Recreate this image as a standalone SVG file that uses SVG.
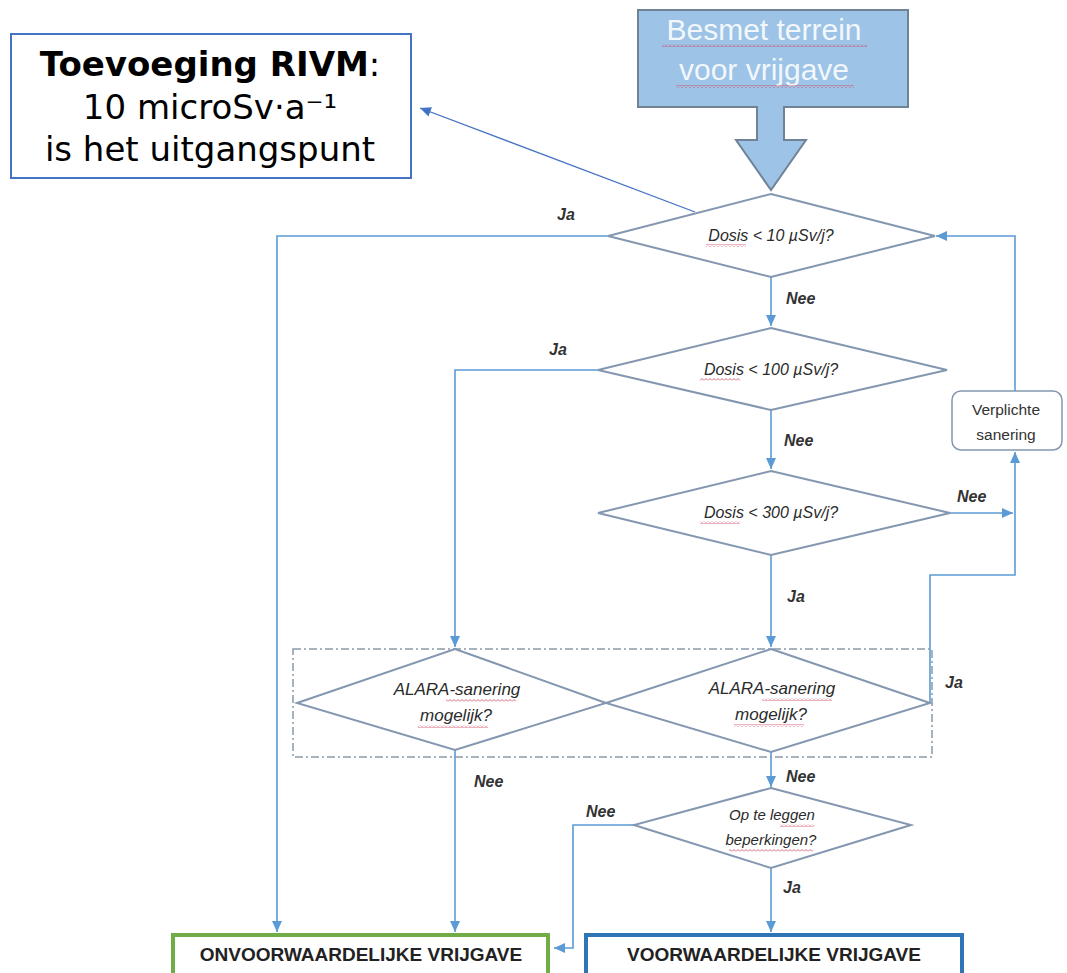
<svg xmlns="http://www.w3.org/2000/svg" width="1067" height="973" viewBox="0 0 1067 973">
<style>
  .dia{fill:#fff;stroke:#8497b0;stroke-width:2}
  .con{fill:none;stroke:#5b9bd5;stroke-width:1.6}
  .q{font-family:"Liberation Sans",Arial,sans-serif;font-style:italic;font-size:16px;fill:#2a2a2a;text-anchor:middle}
  .q2{font-family:"Liberation Sans",Arial,sans-serif;font-style:italic;font-size:17px;fill:#2a2a2a;text-anchor:middle}
  .lab{font-family:"Liberation Sans",Arial,sans-serif;font-style:italic;font-size:16px;fill:#333;font-weight:bold}
  .rivm{font-family:"DejaVu Sans",Verdana,sans-serif;font-size:34px;fill:#000;text-anchor:middle}
  .fin{font-family:"Liberation Sans",Arial,sans-serif;font-size:19px;fill:#222;text-anchor:middle;font-weight:bold}
  .wav{fill:url(#wavy)}
</style>
<defs>
  <marker id="ah" markerUnits="userSpaceOnUse" markerWidth="12" markerHeight="10" refX="11" refY="5" orient="auto">
    <path d="M0,0 L11,5 L0,10 z" fill="#5b9bd5"/>
  </marker>
  <marker id="ah2" markerUnits="userSpaceOnUse" markerWidth="12" markerHeight="10" refX="11" refY="5" orient="auto">
    <path d="M0,0 L11,5 L0,10 z" fill="#4472c4"/>
  </marker>
  <pattern id="wavy" width="4" height="3" patternUnits="userSpaceOnUse">
    <path d="M0,2.5 L2,0.5 L4,2.5" fill="none" stroke="#d04060" stroke-width="0.8"/>
  </pattern>
</defs>

<rect width="1067" height="973" fill="#fff"/>

<g id="connectors">
  <path class="con" d="M695,212 L420,108" style="stroke:#4472c4;stroke-width:1.3" marker-end="url(#ah2)"/>
  <path class="con" d="M608,236 L277,236 L277,932" marker-end="url(#ah)"/>
  <path class="con" d="M771,277 L771,326" marker-end="url(#ah)"/>
  <path class="con" d="M598,370 L455,370 L455,647" marker-end="url(#ah)"/>
  <path class="con" d="M771,410 L771,469" marker-end="url(#ah)"/>
  <path class="con" d="M950,513 L1013,513" marker-end="url(#ah)"/>
  <path class="con" d="M771,555 L771,647" marker-end="url(#ah)"/>
  <path class="con" d="M1015,391 L1015,236 L936,236" marker-end="url(#ah)"/>
  <path class="con" d="M930,703 L930,575 L1015,575 L1015,452" marker-end="url(#ah)"/>
  <path class="con" d="M455,750 L455,932" marker-end="url(#ah)"/>
  <path class="con" d="M771,752 L771,787" marker-end="url(#ah)"/>
  <path class="con" d="M634,825 L573,825 L573,948 L554,948" marker-end="url(#ah)"/>
  <path class="con" d="M771,868 L771,932" marker-end="url(#ah)"/>
</g>

<g id="labels">
  <text class="lab" x="557" y="220">Ja</text>
  <text class="lab" x="786" y="304">Nee</text>
  <text class="lab" x="549" y="355">Ja</text>
  <text class="lab" x="784" y="446">Nee</text>
  <text class="lab" x="957" y="502">Nee</text>
  <text class="lab" x="787" y="602">Ja</text>
  <text class="lab" x="945" y="688">Ja</text>
  <text class="lab" x="474" y="787">Nee</text>
  <text class="lab" x="786" y="782">Nee</text>
  <text class="lab" x="586" y="817">Nee</text>
  <text class="lab" x="783" y="893">Ja</text>
</g>

<g id="rivm">
  <rect x="11" y="34" width="400" height="144" fill="#fff" stroke="#4472c4" stroke-width="2"/>
  <text class="rivm" x="210" y="76"><tspan font-weight="bold">Toevoeging RIVM</tspan>:</text>
  <text class="rivm" x="210" y="119">10 microSv·a⁻¹</text>
  <text class="rivm" x="210" y="161">is het uitgangspunt</text>
</g>

<g id="start">
  <rect x="638" y="10" width="270" height="97" fill="#9dc3e6" stroke="#6f8296" stroke-width="2"/>
  <path d="M757,107 L757,140 L736,140 L771,190 L806,140 L784,140 L784,107" fill="#9dc3e6" stroke="#6f8296" stroke-width="2"/>
  <rect x="758" y="104" width="25" height="5" fill="#9dc3e6"/>
  <text x="764" y="40" font-family="'Liberation Sans',Arial,sans-serif" font-size="30" fill="#f2f7fc" text-anchor="middle">Besmet terrein</text>
  <text x="764" y="80" font-family="'Liberation Sans',Arial,sans-serif" font-size="30" fill="#f2f7fc" text-anchor="middle">voor vrijgave</text>
  <rect class="wav" x="662" y="44" width="205" height="3"/>
  <rect class="wav" x="676" y="85" width="178" height="3"/>
</g>

<g id="d1">
  <polygon class="dia" points="771,194 935,236 771,277 608,236"/>
  <text class="q" x="771" y="241">Dosis &lt; 10 µSv/j?</text>
  <rect class="wav" x="706" y="244" width="40" height="3"/>
</g>

<g id="d2">
  <polygon class="dia" points="771,328 947,370 771,410 598,370"/>
  <text class="q" x="771" y="375">Dosis &lt; 100 µSv/j?</text>
  <rect class="wav" x="700" y="378" width="40" height="3"/>
</g>

<g id="d3">
  <polygon class="dia" points="771,471 950,513 771,555 598,513"/>
  <text class="q" x="771" y="518">Dosis &lt; 300 µSv/j?</text>
  <rect class="wav" x="700" y="521" width="40" height="3"/>
</g>

<g id="verplicht">
  <rect x="952" y="391" width="110" height="59" rx="9" fill="#fff" stroke="#8497b0" stroke-width="1.5"/>
  <text x="1006" y="415" font-family="'Liberation Sans',Arial,sans-serif" font-size="15.5" fill="#333" text-anchor="middle">Verplichte</text>
  <text x="1006" y="440" font-family="'Liberation Sans',Arial,sans-serif" font-size="15.5" fill="#333" text-anchor="middle">sanering</text>
</g>

<g id="alara-group">
  <rect x="293" y="649" width="639" height="108" fill="none" stroke="#8a99aa" stroke-width="1.5" stroke-dasharray="8 3 2 3"/>
</g>

<g id="alara1">
  <polygon class="dia" points="455,649 606,703 455,750 297,703"/>
  <text class="q2" x="457" y="695">ALARA-sanering</text>
  <text class="q2" x="456" y="721">mogelijk?</text>
  <rect class="wav" x="446" y="699" width="70" height="3"/>
  <rect class="wav" x="418" y="725" width="70" height="3"/>
</g>

<g id="alara2">
  <polygon class="dia" points="771,649 930,703 771,752 606,703"/>
  <text class="q2" x="772" y="694">ALARA-sanering</text>
  <text class="q2" x="771" y="720">mogelijk?</text>
  <rect class="wav" x="762" y="698" width="70" height="3"/>
  <rect class="wav" x="734" y="724" width="70" height="3"/>
</g>

<g id="beperkingen">
  <polygon class="dia" points="771,788 911,825 771,868 634,825"/>
  <text class="q" x="772" y="820" style="font-size:15px">Op te leggen</text>
  <text class="q" x="771" y="845" style="font-size:15px">beperkingen?</text>
  <rect class="wav" x="780" y="824" width="34" height="3"/>
  <rect class="wav" x="729" y="849" width="84" height="3"/>
</g>

<g id="onvoorwaardelijk">
  <rect x="173" y="935" width="375" height="44" fill="#fff" stroke="#70ad47" stroke-width="4"/>
  <text class="fin" x="361" y="961">ONVOORWAARDELIJKE VRIJGAVE</text>
</g>

<g id="voorwaardelijk">
  <rect x="586" y="935" width="376" height="44" fill="#fff" stroke="#2e75b6" stroke-width="4"/>
  <text class="fin" x="774" y="961">VOORWAARDELIJKE VRIJGAVE</text>
</g>
</svg>
